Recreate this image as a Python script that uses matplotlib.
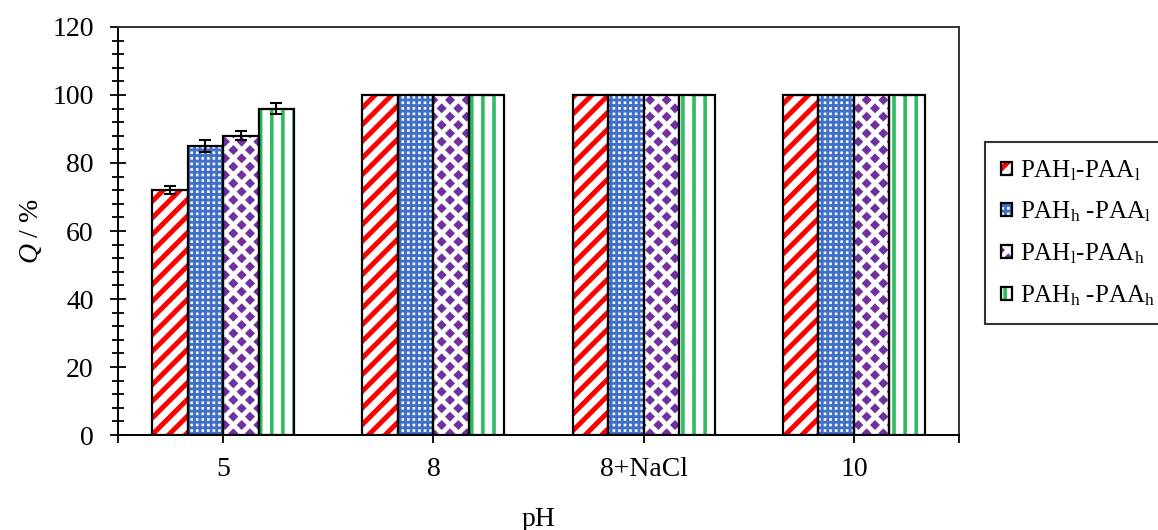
import warnings
import numpy as np
import matplotlib
matplotlib.use("Agg")
import matplotlib.pyplot as plt
import matplotlib.hatch as mhatch
from matplotlib.path import Path
from matplotlib.ticker import MultipleLocator

warnings.filterwarnings("ignore")

# data
categories = ["5", "8", "8+NaCl", "10"]
series = ["PAH$_{\\mathrm{l}}$-PAA$_{\\mathrm{l}}$",
          "PAH$_{\\mathrm{h}}$ -PAA$_{\\mathrm{l}}$",
          "PAH$_{\\mathrm{l}}$-PAA$_{\\mathrm{h}}$",
          "PAH$_{\\mathrm{h}}$ -PAA$_{\\mathrm{h}}$"]
q_ll = [72, 100, 100, 100]
q_hl = [85, 100, 100, 100]
q_lh = [88, 100, 100, 100]
q_hh = [96, 100, 100, 100]
err_ll = [1.2, 0, 0, 0]
err_hl = [1.7, 0, 0, 0]
err_lh = [1.3, 0, 0, 0]
err_hh = [1.7, 0, 0, 0]


# custom fill patterns (one hatch tile ~ 72 px)
class PolyHatch(mhatch.HatchPatternBase):
    char = None

    def __init__(self, hatch, density):
        self.polys = self.make() if (hatch and self.char in hatch) else []
        self.num_vertices = sum(len(p) + 1 for p in self.polys)

    def make(self):
        return []

    def set_vertices_and_codes(self, vertices, codes):
        i = 0
        for p in self.polys:
            n = len(p)
            vertices[i:i + n] = p
            vertices[i + n] = p[0]
            codes[i] = Path.MOVETO
            codes[i + 1:i + n] = Path.LINETO
            codes[i + n] = Path.CLOSEPOLY
            i += n + 1


class RedStripes(PolyHatch):
    char = "r"

    def make(self):
        n, w = 6, 0.07
        return [np.array([[c, 0], [c + w, 0], [c + w + 1, 1], [c + 1, 1]])
                for c in np.arange(-n - 1, n + 1) / n]


class BlueDots(PolyHatch):
    char = "b"

    def make(self):
        n, s = 18, 0.013
        out = []
        for i in range(n):
            for j in range(n):
                x, y = (i + 0.5) / n, (j + 0.5) / n
                out.append(np.array([[x - s, y - s], [x + s, y - s],
                                     [x + s, y + s], [x - s, y + s]]))
        return out


class PurpleDiamonds(PolyHatch):
    char = "d"

    def make(self):
        m, s = 6, 0.05
        out = []
        for i in range(m + 1):
            for j in range(m + 1):
                for x, y in [(i / m, j / m), ((i + 0.5) / m, (j + 0.5) / m)]:
                    out.append(np.array([[x - s, y], [x, y - s],
                                         [x + s, y], [x, y + s]]))
        return out


class GreenLines(PolyHatch):
    char = "g"

    def make(self):
        n, w = 9, 0.036
        return [np.array([[c, 0], [c + w, 0], [c + w, 1], [c, 1]])
                for c in (np.arange(n) + 0.3) / n]


mhatch._hatch_types.extend([RedStripes, BlueDots, PurpleDiamonds, GreenLines])

plt.rcParams["font.family"] = ["Liberation Serif", "DejaVu Serif"]
plt.rcParams["mathtext.fontset"] = "custom"
plt.rcParams["mathtext.rm"] = "Liberation Serif"
plt.rcParams["mathtext.it"] = "Liberation Serif:italic"
plt.rcParams["hatch.linewidth"] = 0.01

fig = plt.figure(figsize=(11.58, 5.30), dpi=100)
ax = fig.add_axes([0.1019, 0.1792, 0.7263, 0.7699])

values = [q_ll, q_hl, q_lh, q_hh]
errors = [err_ll, err_hl, err_lh, err_hh]
faces = ["white", "#3f6fc6", "white", "white"]
hatch_colors = ["#ff0000", "white", "#7030a0", "#2fbb62"]
hatches = ["r", "b", "d", "g"]

x = np.arange(len(categories))
width = 0.169
handles = []
for k in range(4):
    pos = x + (k - 1.5) * width
    fill = ax.bar(pos, values[k], width, color=faces[k], edgecolor=hatch_colors[k],
                  linewidth=0, hatch=hatches[k], zorder=2)
    edge = ax.bar(pos, values[k], width, fill=False, edgecolor="black",
                  linewidth=1.6, zorder=3)
    ax.errorbar(pos, values[k], yerr=errors[k], fmt="none", ecolor="black",
                elinewidth=1.5, capsize=4.5, capthick=1.5, zorder=4)
    handles.append((fill, edge))

ax.set_xlim(-0.5, 3.5)
ax.set_ylim(0, 120)
ax.yaxis.set_major_locator(MultipleLocator(20))
ax.yaxis.set_minor_locator(MultipleLocator(4))
ax.set_xticks([-0.5, 0, 1, 2, 3, 3.5], [""] + categories + [""])

ax.tick_params(axis="y", which="major", direction="inout", length=11, width=1.3,
               labelsize=20, pad=12)
ax.tick_params(axis="y", which="minor", direction="inout", length=8, width=1.3)
ax.tick_params(axis="x", direction="out", length=6, width=1.3, labelsize=20, pad=10)

for side in ["left", "bottom"]:
    ax.spines[side].set_linewidth(1.4)
    ax.spines[side].set_color("black")
for side in ["top", "right"]:
    ax.spines[side].set_linewidth(1.4)
    ax.spines[side].set_color("#333333")

ax.set_xlabel("pH", fontsize=20, labelpad=18)
ax.set_ylabel("$\\it{Q}$ / %", fontsize=20, labelpad=6)

leg = fig.legend(handles, series, loc="upper left",
                 bbox_to_anchor=(985 / 1158, 1 - 142 / 530), borderaxespad=0,
                 fontsize=18, frameon=True, fancybox=False, edgecolor="black",
                 handlelength=0.42, handleheight=0.42, handletextpad=0.35,
                 labelspacing=0.68, borderpad=0.65)
leg.get_frame().set_linewidth(1.5)

fig.savefig("out.png", dpi=100)
